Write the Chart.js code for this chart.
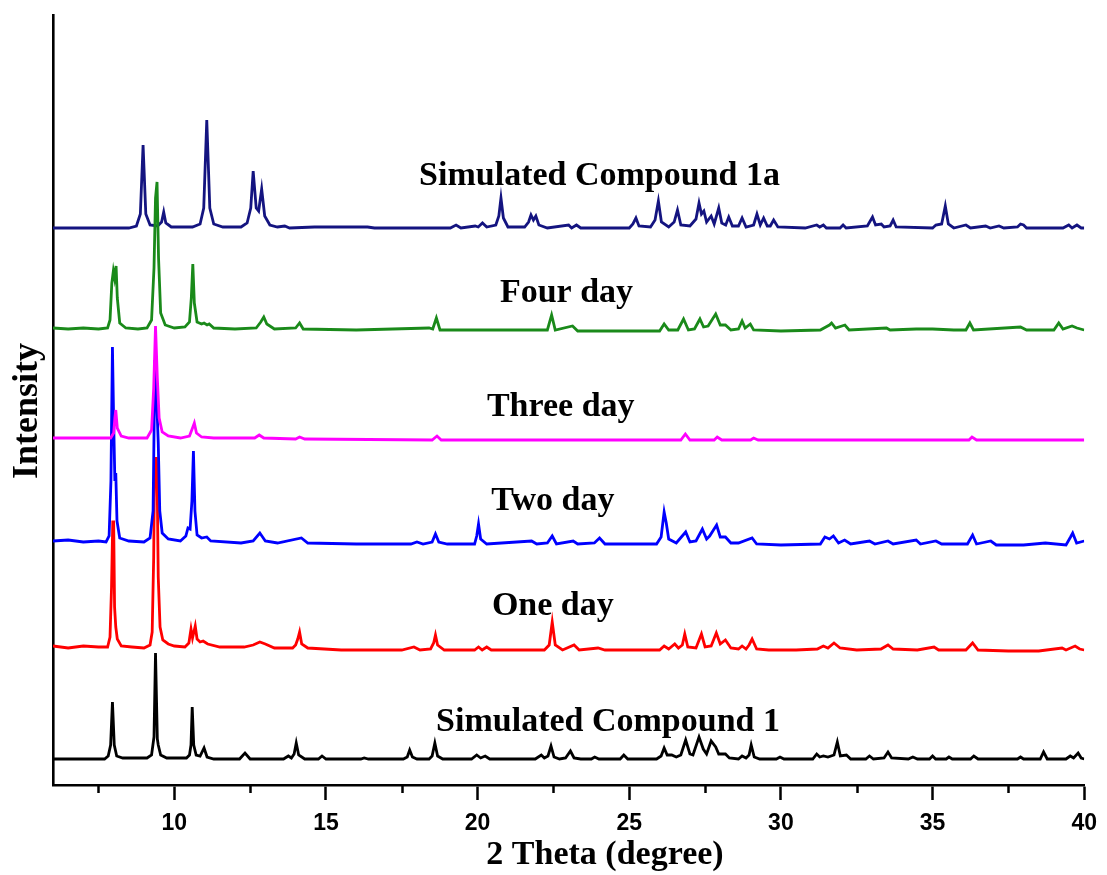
<!DOCTYPE html>
<html>
<head>
<meta charset="utf-8">
<script src="https://cdn.jsdelivr.net/npm/chart.js@4/dist/chart.umd.min.js"></script>
<style>
  html, body { margin: 0; padding: 0; background: #fff; }
  #wrap { width: 1107px; height: 875px; }
</style>
</head>
<body>
<div id="wrap"><canvas id="c" width="1107" height="875"></canvas></div>
<script>
// ---- Data (2θ in degrees, intensity above each pattern's own baseline, arbitrary units) ----
const seriesNames = ["Simulated Compound 1", "One day", "Two day", "Three day", "Four day", "Simulated Compound 1a"];
const baselineOffsets = [26, 138, 244, 347, 457, 557];
const xTickValues = [10, 15, 20, 25, 30, 35, 40];
const xMinorTicks = [7.5, 12.5, 17.5, 22.5, 27.5, 32.5, 37.5];

const simulated1 = [[6.0,0],[7.7,0],[7.82,3],[7.9,14],[7.96,57],[8.02,14],[8.1,3],[8.3,1],
[9.1,1],[9.25,4],[9.33,22],[9.38,106],[9.44,20],[9.47,14],[9.55,4],[9.75,1],
[10.4,1],[10.5,4],[10.55,14],[10.59,52],[10.64,14],[10.72,4],[10.85,3],[10.98,11],[11.08,2],[11.3,0],
[12.15,0],[12.33,6],[12.5,0],[13.6,0],[13.76,3],[13.86,1],[13.95,5],[14.02,16],[14.1,4],[14.3,0],[14.75,0],[14.87,3],[15.0,0],[16.15,0],[16.26,1],[16.4,0],[17.55,0],[17.68,2],[17.76,9],[17.85,2],[18.0,0],[18.4,0],[18.5,3],[18.59,16],[18.68,3],[18.85,0],[19.8,0],[19.97,4],[20.1,1],[20.25,3],[20.4,0],[21.9,0],[22.1,4],[22.2,1],[22.32,3],[22.42,13],[22.52,2],[22.7,0],[22.9,1],[23.06,8],[23.18,1],[23.4,0],[23.75,0],[23.86,2],[24.0,0],[24.7,0],[24.82,4],[24.95,0],[25.9,0],[26.05,3],[26.15,11],[26.25,4],[26.4,4],[26.55,2],[26.7,4],[26.86,19],[27.0,5],[27.1,4],[27.3,22],[27.44,10],[27.55,5],[27.7,18],[27.85,12],[27.95,5],[28.17,5],[28.3,1],[28.6,0],[28.72,3],[28.85,1],[28.95,4],[29.02,14],[29.12,2],[29.3,0],[29.85,0],[29.97,2],[30.1,0],[31.05,0],[31.18,5],[31.28,2],[31.4,3],[31.55,2],[31.75,4],[31.86,17],[31.96,3],[32.16,4],[32.3,0],[32.8,0],[32.92,3],[33.05,0],[33.4,1],[33.53,7],[33.65,1],[34.2,0],[34.35,2],[34.5,0],[34.9,0],[35.0,3],[35.1,0],[35.45,0],[35.54,2],[35.65,0],[36.25,0],[36.36,3],[36.5,0],[37.8,0],[37.9,2],[38.0,0],[38.55,0],[38.66,7],[38.78,0],[39.4,0],[39.54,3],[39.65,1],[39.8,6],[39.9,1],[40,0]];

const oneDay = [[6.0,1],[6.5,-1],[7.0,1],[7.5,0],[7.8,0],[7.88,10],[7.93,60],[7.97,125],[8.0,125],[8.03,40],[8.07,20],[8.12,8],[8.25,1],[8.6,0],[9.0,-1],[9.2,2],[9.27,15],[9.32,90],[9.35,190],[9.38,160],[9.41,190],[9.44,150],[9.47,70],[9.53,20],[9.62,7],[9.8,3],[10.0,1],[10.35,0],[10.48,4],[10.55,18],[10.6,9],[10.69,21],[10.75,8],[10.85,5],[10.95,6],[11.1,3],[11.5,0],[12.3,0],[12.6,2],[12.82,5],[13.0,3],[13.3,-1],[13.9,-1],[14.0,2],[14.07,8],[14.13,15],[14.2,3],[14.4,-1],[15.5,-3],[16.5,-3],[17.5,-3],[17.9,0],[18.1,-3],[18.45,-2],[18.55,4],[18.61,12],[18.68,2],[18.9,-3],[19.9,-3],[20.03,0],[20.15,-3],[20.3,0],[20.45,-3],[22.2,-3],[22.36,2],[22.46,25],[22.56,2],[22.8,-3],[23.18,2],[23.35,-3],[23.97,-1],[24.2,-3],[26.0,-3],[26.15,1],[26.3,-2],[26.5,3],[26.62,-1],[26.75,2],[26.83,13],[26.93,0],[27.2,-1],[27.38,13],[27.5,0],[27.7,1],[27.87,14],[28.0,3],[28.17,7],[28.35,-1],[28.6,-2],[28.72,1],[28.85,-2],[28.95,2],[29.05,8],[29.2,-2],[29.6,-3],[30.5,-3],[31.2,-2],[31.4,1],[31.55,-1],[31.75,4],[31.95,-1],[32.5,-3],[33.3,-2],[33.53,2],[33.7,-2],[34.5,-3],[35.05,0],[35.2,-3],[36.1,-3],[36.32,4],[36.5,-3],[37.5,-4],[38.5,-4],[39.27,-1],[39.4,-3],[39.7,1],[39.85,-2],[40,-3]];

const twoDay = [[6.0,0],[6.5,1],[7.0,-1],[7.5,0],[7.75,-1],[7.85,5],[7.91,60],[7.96,194],[8.0,120],[8.04,60],[8.07,68],[8.11,20],[8.2,3],[8.5,0],[9.0,-1],[9.2,3],[9.3,30],[9.36,181],[9.42,140],[9.47,98],[9.52,30],[9.6,8],[9.8,2],[10.2,0],[10.38,5],[10.45,13],[10.52,12],[10.58,40],[10.63,90],[10.68,30],[10.75,6],[10.9,3],[11.07,4],[11.2,0],[12.2,-2],[12.6,0],[12.82,8],[13.0,0],[13.4,-2],[14.19,3],[14.4,-2],[16.0,-3],[17.8,-3],[18.0,-1],[18.2,-3],[18.5,-1],[18.61,7],[18.72,-1],[19.0,-3],[19.9,-3],[19.97,5],[20.03,17],[20.1,2],[20.3,-3],[21.78,0],[21.95,-3],[22.3,-2],[22.46,5],[22.6,-3],[23.15,0],[23.3,-3],[23.85,-2],[24.02,3],[24.2,-3],[25.9,-3],[26.05,4],[26.15,29],[26.22,18],[26.3,2],[26.55,-2],[26.86,9],[27.0,-1],[27.2,0],[27.41,12],[27.55,2],[27.65,5],[27.88,16],[28.0,4],[28.17,4],[28.35,-2],[28.6,-2],[29.05,3],[29.2,-3],[30.0,-4],[31.3,-3],[31.45,4],[31.6,2],[31.73,5],[31.9,-2],[32.1,1],[32.3,-3],[32.92,0],[33.1,-3],[33.53,0],[33.7,-3],[34.46,1],[34.6,-3],[35.11,0],[35.3,-3],[36.15,-3],[36.32,6],[36.45,-3],[36.92,0],[37.1,-4],[38.0,-4],[38.72,-2],[39.4,-4],[39.55,4],[39.62,8],[39.75,-2],[40,0]];

const threeDay = [[6,0],[7.9,0],[8.0,5],[8.04,20],[8.07,28],[8.12,10],[8.25,2],[8.5,0],[9.1,0],[9.25,8],[9.32,50],[9.38,112],[9.44,60],[9.5,20],[9.6,6],[9.8,2],[10.2,0],[10.5,2],[10.6,10],[10.66,15],[10.73,5],[10.9,1],[11.3,0],[12.65,0],[12.8,3],[12.95,0],[14.0,-1],[14.13,1],[14.3,-1],[18.5,-2],[18.66,2],[18.8,-2],[26.7,-2],[26.85,4],[27.0,-2],[27.8,-2],[27.9,1],[28.05,-2],[29.0,-2],[29.1,0],[29.25,-2],[36.2,-2],[36.3,1],[36.45,-2],[40,-2]];

const fourDay = [[6,0],[6.5,-1],[7.0,0],[7.5,-1],[7.8,0],[7.88,8],[7.94,45],[7.99,57],[8.03,50],[8.08,62],[8.12,30],[8.2,5],[8.4,0],[8.8,-1],[9.1,0],[9.25,8],[9.33,60],[9.38,130],[9.43,146],[9.48,70],[9.55,15],[9.7,3],[10.0,0],[10.35,1],[10.5,6],[10.56,30],[10.61,64],[10.66,25],[10.75,6],[10.9,4],[10.98,5],[11.08,3],[11.15,4],[11.3,0],[12.0,-1],[12.7,0],[12.85,6],[12.95,11],[13.05,4],[13.3,-1],[14.0,0],[14.13,5],[14.25,-1],[16.0,-2],[18.4,0],[18.52,-1],[18.64,10],[18.76,-2],[19.5,-2],[22.3,-2],[22.44,13],[22.56,-2],[23.13,2],[23.3,-3],[26.0,-3],[26.15,4],[26.3,-2],[26.6,-2],[26.79,9],[26.95,-2],[27.15,-1],[27.33,9],[27.45,1],[27.6,2],[27.85,14],[28.0,3],[28.17,3],[28.35,-2],[28.6,-1],[28.72,7],[28.82,0],[28.99,4],[29.1,-2],[30.0,-3],[31.3,-2],[31.6,3],[31.67,5],[31.8,0],[32.11,3],[32.25,-2],[33.48,0],[33.6,-2],[34.46,-1],[35.0,-1],[35.7,-2],[36.1,-2],[36.23,5],[36.35,-2],[37.9,1],[38.1,-2],[39.0,-2],[39.16,5],[39.3,-1],[39.6,2],[39.76,0],[40,-2]];

const simulated1a = [[6,0],[8.5,0],[8.75,2],[8.88,14],[8.97,83],[9.06,14],[9.2,3],[9.45,2],[9.58,6],[9.65,16],[9.72,5],[9.9,1],[10.6,1],[10.85,4],[10.97,20],[11.07,108],[11.17,20],[11.3,4],[11.6,1],[12.2,1],[12.4,5],[12.52,20],[12.6,57],[12.7,20],[12.78,17],[12.88,39],[12.98,12],[13.15,3],[13.4,1],[13.64,2],[13.8,0],[14.62,1],[15.57,1],[16.37,1],[16.6,0],[19.1,0],[19.29,3],[19.45,0],[19.92,2],[20.02,1],[20.16,5],[20.3,1],[20.6,3],[20.7,12],[20.77,30],[20.85,10],[21.0,1],[21.55,1],[21.68,6],[21.76,13],[21.84,8],[21.92,12],[22.02,3],[22.3,0],[23.0,3],[23.1,0],[23.26,3],[23.4,0],[25.0,0],[25.12,4],[25.22,10],[25.32,2],[25.7,1],[25.85,8],[25.96,27],[26.06,6],[26.3,1],[26.48,6],[26.59,18],[26.7,3],[27.0,2],[27.2,9],[27.3,25],[27.38,14],[27.46,17],[27.55,6],[27.7,12],[27.8,4],[27.95,20],[28.05,5],[28.18,3],[28.28,11],[28.4,2],[28.6,2],[28.72,10],[28.85,1],[29.1,3],[29.21,14],[29.32,3],[29.43,10],[29.55,2],[29.65,2],[29.76,8],[29.9,1],[30.8,0],[31.18,3],[31.28,1],[31.4,3],[31.5,0],[31.95,0],[32.05,3],[32.15,0],[32.85,2],[33.02,11],[33.12,3],[33.31,4],[33.4,1],[33.6,2],[33.7,8],[33.8,1],[35.0,0],[35.11,3],[35.3,4],[35.42,22],[35.52,4],[35.7,0],[36.1,3],[36.25,0],[36.75,2],[36.9,0],[37.19,2],[37.35,0],[37.8,1],[37.9,4],[38.0,3],[38.1,0],[39.3,0],[39.49,3],[39.6,0],[39.76,3],[39.9,0],[40,0]];

const seriesData = [simulated1, oneDay, twoDay, threeDay, fourDay, simulated1a];
const seriesColors = ["#000000", "#ff0000", "#0000ff", "#ff00ff", "#1a8a1a", "#141480"];
// drawing priority (lower = drawn on top)
const seriesOrder = [5, 4, 3, 2, 1, 6];

// label anchors in data coordinates (2θ, intensity units)
const labelX = [24.3, 22.48, 22.48, 22.74, 22.93, 24.02];
const labelY = [54, 170, 275, 369, 483, 600];

// ---- Chart ----
const datasets = seriesData.map((pts, i) => ({
  label: seriesNames[i],
  data: pts.map(p => ({ x: p[0], y: p[1] + baselineOffsets[i] })),
  borderColor: seriesColors[i],
  backgroundColor: seriesColors[i],
  borderWidth: 2.8,
  pointRadius: 0,
  tension: 0,
  fill: false,
  order: seriesOrder[i]
}));

const overlayPlugin = {
  id: 'overlay',
  afterDraw(chart) {
    const ctx = chart.ctx;
    const xs = chart.scales.x, ys = chart.scales.y;
    const ca = chart.chartArea;
    ctx.save();
    // minor ticks
    ctx.strokeStyle = '#000';
    ctx.lineWidth = 2.5;
    xMinorTicks.forEach(v => {
      const px = Math.round(xs.getPixelForValue(v)) + 0.5;
      ctx.beginPath();
      ctx.moveTo(px, ca.bottom);
      ctx.lineTo(px, ca.bottom + 8);
      ctx.stroke();
    });
    // series labels
    ctx.fillStyle = '#000';
    ctx.font = 'bold 34px "Liberation Serif", "Times New Roman", serif';
    ctx.textAlign = 'center';
    ctx.textBaseline = 'alphabetic';
    seriesNames.forEach((name, i) => {
      ctx.fillText(name, xs.getPixelForValue(labelX[i]), ys.getPixelForValue(labelY[i]));
    });
    // axis titles
    ctx.font = 'bold 34px "Liberation Serif", "Times New Roman", serif';
    ctx.fillText('2 Theta (degree)', 605, 864);
    ctx.translate(37, 411);
    ctx.rotate(-Math.PI / 2);
    ctx.font = 'bold 36px "Liberation Serif", "Times New Roman", serif';
    ctx.fillText('Intensity', 0, 0);
    ctx.restore();
  }
};

new Chart(document.getElementById('c'), {
  type: 'line',
  data: { datasets },
  options: {
    responsive: false,
    animation: false,
    devicePixelRatio: 1,
    layout: { padding: { top: 15, right: 18, left: 0, bottom: 0 } },
    plugins: { legend: { display: false }, tooltip: { enabled: false }, title: { display: false } },
    scales: {
      x: {
        type: 'linear',
        min: 6, max: 40,
        afterFit: s => { s.height = 90; },
        afterBuildTicks: s => { s.ticks = xTickValues.map(v => ({ value: v })); },
        grid: { display: true, drawOnChartArea: false, drawTicks: true, tickLength: 15, tickWidth: 2.5, tickColor: '#000', color: '#000' },
        border: { display: true, width: 2.6, color: '#000' },
        ticks: {
          color: '#000',
          padding: 10,
          maxRotation: 0,
          font: { family: '"Liberation Sans Narrow", "Arial Narrow", "Liberation Sans", Arial, sans-serif', size: 23, weight: 'bold' }
        }
      },
      y: {
        type: 'linear',
        min: 0, max: 770,
        afterFit: s => { s.width = 53; },
        grid: { display: false, drawTicks: false },
        border: { display: true, width: 2.6, color: '#000' },
        ticks: { display: false }
      }
    }
  },
  plugins: [overlayPlugin]
});
</script>
</body>
</html>
